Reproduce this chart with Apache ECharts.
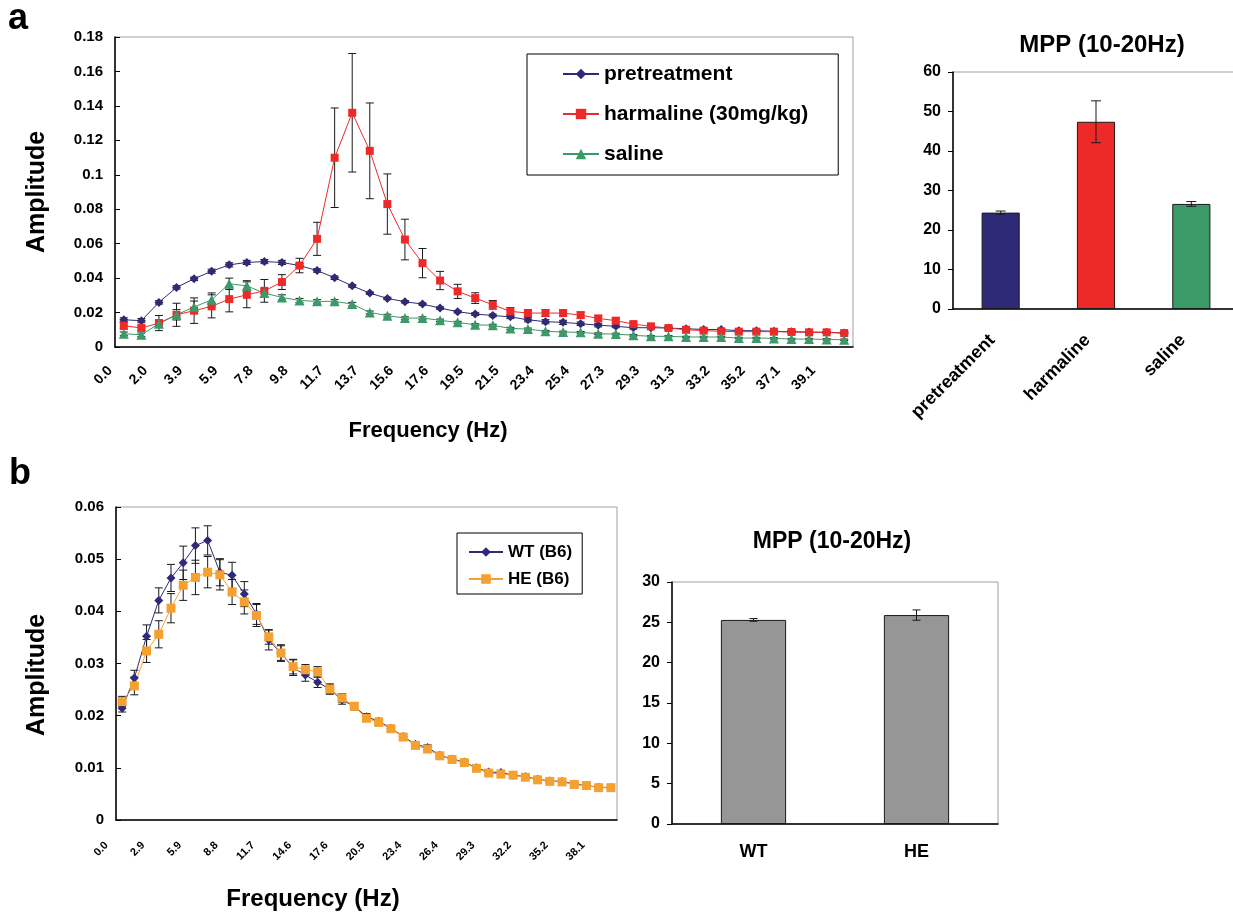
<!DOCTYPE html>
<html>
<head>
<meta charset="utf-8">
<script src="https://cdn.jsdelivr.net/npm/echarts@6/dist/echarts.min.js"></script>
<style>
  html, body { margin: 0; padding: 0; background: #fff; }
  #main { width: 1233px; height: 920px; }
</style>
</head>
<body>
<div id="main"></div>
<script>
// ---- panel a : spectrum ----
var freqA = ['0.0','1.0','2.0','2.9','3.9','4.9','5.9','6.8','7.8','8.8','9.8','10.7','11.7','12.7','13.7','14.6',
  '15.6','16.6','17.6','18.6','19.5','20.5','21.5','22.5','23.4','24.4','25.4','26.4','27.3','28.3','29.3','30.3',
  '31.3','32.2','33.2','34.2','35.2','36.1','37.1','38.1','39.1','40.0'];

var pretreatment = [0.0158,0.0153,0.0259,0.0346,0.0396,0.0440,0.0477,0.0491,0.0496,0.0491,0.0473,0.0444,0.0402,0.0355,
  0.0313,0.0282,0.0263,0.0249,0.0226,0.0205,0.0191,0.0183,0.0175,0.0158,0.0147,0.0143,0.0135,0.0127,0.0120,0.0112,
  0.0112,0.0110,0.0106,0.0102,0.0101,0.0095,0.0095,0.0091,0.0089,0.0087,0.0085,0.0081];
var pretreatmentErr = [0.0012,0.0012,0.0010,0.0010,0.0010,0.0012,0.0012,0.0012,0.0012,0.0012,0.0012,0.0010,0.0010,0.0008,
  0.0007,0.0007,0.0007,0.0007,0.0007,0.0007,0.0008,0.0008,0.0010,0.0012,0.0012,0.0012,0.0010,0.0010,0.0008,0.0008,
  0.0008,0.0007,0.0007,0.0007,0.0006,0.0006,0.0006,0.0006,0.0006,0.0006,0.0005,0.0005];

var harmaline = [0.0124,0.0110,0.0139,0.0187,0.0211,0.0236,0.0278,0.0303,0.0326,0.0377,0.0473,0.0628,0.1099,0.1360,
  0.1139,0.0830,0.0624,0.0487,0.0386,0.0323,0.0284,0.0245,0.0207,0.0197,0.0197,0.0197,0.0185,0.0166,0.0153,0.0133,
  0.0120,0.0110,0.0100,0.0095,0.0091,0.0089,0.0089,0.0089,0.0087,0.0085,0.0085,0.0081];
var harmalineErr = [0.0020,0.0015,0.0044,0.0067,0.0074,0.0067,0.0074,0.0075,0.0066,0.0043,0.0042,0.0096,0.0289,0.0344,
  0.0278,0.0175,0.0118,0.0085,0.0053,0.0041,0.0031,0.0025,0.0022,0.0020,0.0020,0.0020,0.0018,0.0016,0.0014,0.0012,
  0.0010,0.0010,0.0009,0.0008,0.0008,0.0008,0.0008,0.0007,0.0007,0.0007,0.0006,0.0006];

var saline = [0.0077,0.0071,0.0135,0.0187,0.0232,0.0274,0.0367,0.0355,0.0313,0.0288,0.0270,0.0265,0.0265,0.0249,
  0.0201,0.0182,0.0168,0.0168,0.0155,0.0143,0.0129,0.0126,0.0108,0.0104,0.0091,0.0087,0.0085,0.0077,0.0075,0.0068,
  0.0062,0.0062,0.0058,0.0058,0.0058,0.0052,0.0052,0.0050,0.0046,0.0046,0.0044,0.0042];
var salineErr = [0.0010,0.0010,0.0020,0.0030,0.0035,0.0040,0.0033,0.0030,0.0025,0.0015,0.0012,0.0010,0.0010,0.0010,
  0.0008,0.0008,0.0007,0.0007,0.0007,0.0006,0.0006,0.0006,0.0006,0.0006,0.0005,0.0005,0.0005,0.0005,0.0005,0.0005,
  0.0004,0.0004,0.0004,0.0004,0.0004,0.0004,0.0004,0.0004,0.0004,0.0004,0.0004,0.0004];

// ---- panel a : MPP bars ----
var mppACats = ['pretreatment', 'harmaline', 'saline'];
var mppAValues = [24.4, 47.4, 26.6];
var mppAErr = [0.4, 5.3, 0.6];

// ---- panel b : spectrum ----
var freqB = ['0.0','1.0','2.0','2.9','3.9','4.9','5.9','6.8','7.8','8.8','9.8','10.7','11.7','12.7','13.7','14.6',
  '15.6','16.6','17.6','18.6','19.5','20.5','21.5','22.5','23.4','24.4','25.4','26.4','27.3','28.3','29.3','30.3',
  '31.3','32.2','33.2','34.2','35.2','36.1','37.1','38.1','39.1'];

var wtB6 = [0.0214,0.0272,0.0352,0.0421,0.0464,0.0493,0.0526,0.0536,0.0475,0.0469,0.0433,0.0395,0.0345,0.0320,0.0292,
  0.0278,0.0264,0.0251,0.0230,0.0218,0.0198,0.0189,0.0176,0.0160,0.0145,0.0139,0.0124,0.0117,0.0111,0.0100,0.0092,
  0.0091,0.0086,0.0083,0.0078,0.0075,0.0074,0.0069,0.0066,0.0063,0.0062];
var wtB6Err = [0.0007,0.0015,0.0022,0.0024,0.0026,0.0032,0.0034,0.0028,0.0026,0.0025,0.0024,0.0020,0.0019,0.0016,0.0015,
  0.0012,0.0010,0.0010,0.0008,0.0007,0.0006,0.0006,0.0005,0.0005,0.0005,0.0005,0.0005,0.0004,0.0004,0.0004,0.0004,
  0.0004,0.0004,0.0003,0.0003,0.0003,0.0003,0.0003,0.0003,0.0003,0.0003];

var heB6 = [0.0227,0.0257,0.0324,0.0356,0.0406,0.0450,0.0465,0.0475,0.0470,0.0437,0.0418,0.0392,0.0351,0.0320,0.0294,
  0.0288,0.0284,0.0251,0.0234,0.0218,0.0195,0.0187,0.0175,0.0159,0.0143,0.0136,0.0123,0.0116,0.0110,0.0099,0.0090,
  0.0088,0.0086,0.0082,0.0077,0.0074,0.0073,0.0068,0.0066,0.0062,0.0062];
var heB6Err = [0.0010,0.0017,0.0022,0.0026,0.0028,0.0029,0.0033,0.0030,0.0029,0.0024,0.0023,0.0021,0.0014,0.0014,0.0014,
  0.0010,0.0010,0.0008,0.0008,0.0006,0.0005,0.0005,0.0005,0.0005,0.0004,0.0004,0.0004,0.0004,0.0004,0.0004,0.0003,
  0.0003,0.0003,0.0003,0.0003,0.0003,0.0003,0.0003,0.0003,0.0003,0.0003];

// ---- panel b : MPP bars ----
var mppBCats = ['WT', 'HE'];
var mppBValues = [25.3, 25.9];
var mppBErr = [0.17, 0.64];

var FONT = 'Liberation Sans';
var NAVY = '#2e2a78', RED = '#ee2a29', GREEN = '#3a9a68', ORANGE = '#f5a131', GREY = '#969696';
var barColorsA = [NAVY, RED, GREEN];

function errorBars(xi, yi, vals, errs, cap, z) {
  return {
    type: 'custom', xAxisIndex: xi, yAxisIndex: yi, z: z, silent: true,
    renderItem: function (params, api) {
      var top = api.coord([api.value(0), api.value(2)]);
      var bot = api.coord([api.value(0), api.value(1)]);
      var st = { stroke: '#1a1a1a', lineWidth: 1 };
      return {
        type: 'group',
        children: [
          { type: 'line', shape: { x1: top[0], y1: top[1], x2: bot[0], y2: bot[1] }, style: st },
          { type: 'line', shape: { x1: top[0] - cap, y1: top[1], x2: top[0] + cap, y2: top[1] }, style: st },
          { type: 'line', shape: { x1: bot[0] - cap, y1: bot[1], x2: bot[0] + cap, y2: bot[1] }, style: st }
        ]
      };
    },
    encode: { x: 0, y: [1, 2] },
    data: vals.map(function (v, i) { return [i, v - errs[i], v + errs[i]]; })
  };
}

function lineSeries(name, xi, yi, data, color, symbol, size) {
  return {
    name: name, type: 'line', xAxisIndex: xi, yAxisIndex: yi, data: data, z: 3,
    symbol: symbol, symbolSize: size, showAllSymbol: true,
    lineStyle: { color: color, width: 1 },
    itemStyle: { color: color },
    emphasis: { disabled: true }
  };
}

function catAxis(gi, data, labelInterval, fontSize, pad, margin) {
  return {
    type: 'category', gridIndex: gi, data: data, boundaryGap: true,
    axisLine: { lineStyle: { color: '#000', width: 1.5 } },
    axisTick: { inside: true, interval: 0, length: 5, lineStyle: { color: '#000' } },
    axisLabel: {
      interval: labelInterval, rotate: 45, fontSize: fontSize, fontWeight: 'bold', fontFamily: FONT,
      color: '#000', margin: margin, padding: [0, pad, 0, 0]
    }
  };
}

function valAxis(gi, max, interval, fontSize, tickInside) {
  return {
    type: 'value', gridIndex: gi, min: 0, max: max, interval: interval,
    splitLine: { show: false },
    axisLine: { show: true, lineStyle: { color: '#000', width: 1.5 } },
    axisTick: { show: true, inside: tickInside, length: 5, lineStyle: { color: '#000' } },
    axisLabel: { fontSize: fontSize, fontWeight: 'bold', fontFamily: FONT, color: '#000', margin: 12 }
  };
}

var chart = echarts.init(document.getElementById('main'));

var option = {
  animation: false,
  backgroundColor: '#fff',
  textStyle: { fontFamily: FONT, fontWeight: 'bold', color: '#000' },
  title: [
    { text: 'MPP (10-20Hz)', left: 1102, top: 33, textAlign: 'center', padding: 0,
      textStyle: { fontSize: 24, fontWeight: 'bold', fontFamily: FONT, color: '#000' } },
    { text: 'MPP (10-20Hz)', left: 832, top: 530, textAlign: 'center', padding: 0,
      textStyle: { fontSize: 23, fontWeight: 'bold', fontFamily: FONT, color: '#000' } }
  ],
  grid: [
    { left: 115, top: 37, width: 738, height: 310, show: true, borderColor: '#a0a0a0', borderWidth: 1, outerBoundsMode: 'none' },
    { left: 953, top: 72, width: 286, height: 237, show: true, borderColor: '#a0a0a0', borderWidth: 1, outerBoundsMode: 'none' },
    { left: 116, top: 507, width: 501, height: 313, show: true, borderColor: '#a0a0a0', borderWidth: 1, outerBoundsMode: 'none' },
    { left: 672, top: 582, width: 326, height: 242, show: true, borderColor: '#a0a0a0', borderWidth: 1, outerBoundsMode: 'none' }
  ],
  legend: [
    {
      orient: 'vertical', left: 527, top: 54, padding: [8, 30, 9, 35], itemGap: 16,
      itemWidth: 36, itemHeight: 13, borderColor: '#000', borderWidth: 1, backgroundColor: '#fff',
      selectedMode: false,
      data: ['pretreatment', 'harmaline (30mg/kg)', 'saline'],
      textStyle: { fontSize: 21, fontWeight: 'bold', fontFamily: FONT, color: '#000', lineHeight: 24 }
    },
    {
      orient: 'vertical', left: 457, top: 533, padding: [9, 10, 5, 11], itemGap: 7,
      itemWidth: 34, itemHeight: 12, borderColor: '#000', borderWidth: 1, backgroundColor: '#fff',
      selectedMode: false,
      data: ['WT (B6)', 'HE (B6)'],
      textStyle: { fontSize: 17, fontWeight: 'bold', fontFamily: FONT, color: '#000', lineHeight: 20 }
    }
  ],
  xAxis: [
    catAxis(0, freqA, 1, 14, 19, 8),
    {
      type: 'category', gridIndex: 1, data: mppACats,
      axisLine: { lineStyle: { color: '#000', width: 1.5 } },
      axisTick: { inside: true, length: 6, lineStyle: { color: '#000' } },
      axisLabel: { rotate: 45, fontSize: 18, fontWeight: 'bold', fontFamily: FONT, color: '#000',
        margin: 20, padding: [0, 12, 0, 0] }
    },
    catAxis(2, freqB, 2, 11, 22, 8),
    {
      type: 'category', gridIndex: 3, data: mppBCats,
      axisLine: { lineStyle: { color: '#000', width: 1.5 } },
      axisTick: { inside: true, length: 5, lineStyle: { color: '#000' } },
      axisLabel: { fontSize: 18, fontWeight: 'bold', fontFamily: FONT, color: '#000', margin: 19 }
    }
  ],
  yAxis: [
    valAxis(0, 0.18, 0.02, 15, true),
    valAxis(1, 60, 10, 16, false),
    valAxis(2, 0.06, 0.01, 15, true),
    valAxis(3, 30, 5, 16, false)
  ],
  graphic: [
    { type: 'text', x: 8, y: 19, style: { text: 'a', font: 'bold 36px "Liberation Sans"', fill: '#000',
      align: 'left', verticalAlign: 'middle', textAlign: 'left', textVerticalAlign: 'middle' } },
    { type: 'text', x: 9, y: 474, style: { text: 'b', font: 'bold 36px "Liberation Sans"', fill: '#000',
      align: 'left', verticalAlign: 'middle', textAlign: 'left', textVerticalAlign: 'middle' } },
    { type: 'text', x: 37, y: 192, rotation: Math.PI / 2, style: { text: 'Amplitude', font: 'bold 25px "Liberation Sans"',
      fill: '#000', align: 'center', verticalAlign: 'middle', textAlign: 'center', textVerticalAlign: 'middle' } },
    { type: 'text', x: 37, y: 675, rotation: Math.PI / 2, style: { text: 'Amplitude', font: 'bold 25px "Liberation Sans"',
      fill: '#000', align: 'center', verticalAlign: 'middle', textAlign: 'center', textVerticalAlign: 'middle' } },
    { type: 'text', x: 428, y: 431, style: { text: 'Frequency (Hz)', font: 'bold 22px "Liberation Sans"',
      fill: '#000', align: 'center', verticalAlign: 'middle', textAlign: 'center', textVerticalAlign: 'middle' } },
    { type: 'text', x: 313, y: 899, style: { text: 'Frequency (Hz)', font: 'bold 24px "Liberation Sans"',
      fill: '#000', align: 'center', verticalAlign: 'middle', textAlign: 'center', textVerticalAlign: 'middle' } }
  ],
  series: [
    errorBars(0, 0, pretreatment, pretreatmentErr, 4, 1),
    errorBars(0, 0, harmaline, harmalineErr, 4, 1),
    errorBars(0, 0, saline, salineErr, 4, 1),
    lineSeries('pretreatment', 0, 0, pretreatment, NAVY, 'diamond', 9),
    lineSeries('harmaline (30mg/kg)', 0, 0, harmaline, RED, 'rect', 8),
    lineSeries('saline', 0, 0, saline, GREEN, 'triangle', 10),
    {
      type: 'bar', xAxisIndex: 1, yAxisIndex: 1, barWidth: '40%', z: 2,
      itemStyle: { borderColor: '#1a1a1a', borderWidth: 1 },
      emphasis: { disabled: true },
      data: mppAValues.map(function (v, i) { return { value: v, itemStyle: { color: barColorsA[i] } }; })
    },
    errorBars(1, 1, mppAValues, mppAErr, 5, 4),
    errorBars(2, 2, wtB6, wtB6Err, 4, 1),
    errorBars(2, 2, heB6, heB6Err, 4, 1),
    lineSeries('WT (B6)', 2, 2, wtB6, NAVY, 'diamond', 9),
    lineSeries('HE (B6)', 2, 2, heB6, ORANGE, 'rect', 9),
    {
      type: 'bar', xAxisIndex: 3, yAxisIndex: 3, barWidth: '40%', z: 2,
      itemStyle: { color: GREY, borderColor: '#1a1a1a', borderWidth: 1 },
      emphasis: { disabled: true },
      data: mppBValues
    },
    errorBars(3, 3, mppBValues, mppBErr, 4, 4)
  ]
};

chart.setOption(option);
window.onresize = function () { chart.resize(); };
</script>
</body>
</html>
